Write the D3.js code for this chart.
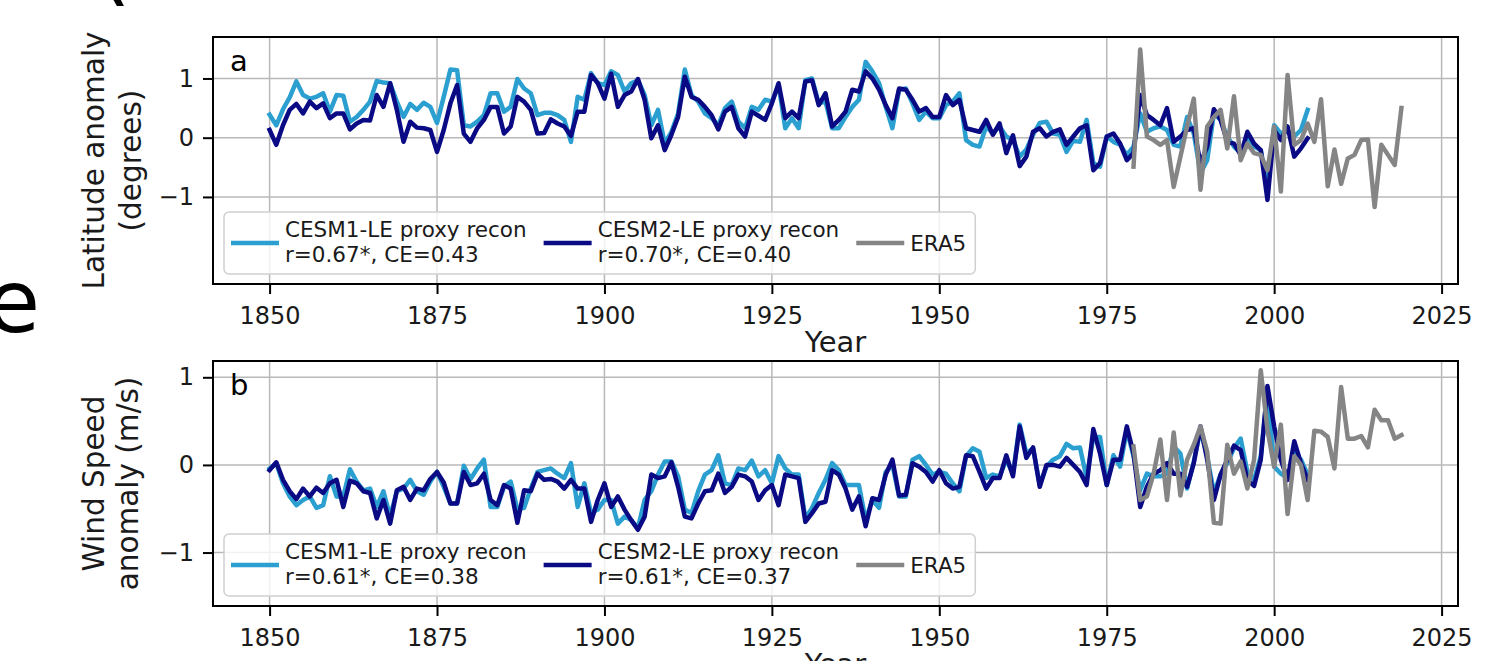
<!DOCTYPE html>
<html><head><meta charset="utf-8">
<script src="https://cdn.jsdelivr.net/npm/d3@7"></script>
<style>
body{margin:0;background:#fff;}
svg{display:block;font-family:"DejaVu Sans",sans-serif;}
</style>
</head><body>
<svg id="c" width="1496" height="661"></svg>
<script>
// ---------------- data ----------------
const reconYears = d3.range(1850, 2006);
const era5Years = d3.range(1979, 2020);
const xTicks = [1850, 1875, 1900, 1925, 1950, 1975, 2000, 2025];
const yTicks = [-1, 0, 1];

const latCESM1 = [0.39,0.21,0.48,0.68,0.95,0.72,0.66,0.69,0.75,0.44,0.72,0.71,0.27,0.35,0.47,0.61,0.96,0.93,0.92,0.61,
0.35,0.57,0.47,0.59,0.52,0.25,0.69,1.15,1.14,0.21,0.19,0.27,0.38,0.75,0.75,0.44,0.52,0.99,0.83,0.75,
0.38,0.42,0.42,0.38,0.30,-0.07,0.69,0.64,1.09,0.92,0.89,1.12,1.06,0.78,0.92,0.97,0.72,0.21,0.47,-0.10,
0.10,0.41,1.15,0.72,0.61,0.41,0.33,0.21,0.50,0.61,0.27,0.16,0.52,0.47,0.64,0.61,0.89,0.16,0.33,0.16,
0.97,1.00,0.58,0.61,0.16,0.16,0.35,0.52,0.64,1.28,1.12,0.92,0.52,0.16,0.81,0.83,0.58,0.30,0.44,0.33,
0.33,0.55,0.61,0.75,-0.04,-0.12,-0.15,0.19,0.07,0.19,0.02,-0.04,-0.32,-0.20,0.05,0.25,0.27,0.07,0.05,-0.24,
-0.05,-0.07,0.30,-0.43,-0.49,0.02,-0.07,-0.12,-0.29,-0.15,0.41,0.10,0.16,0.19,0.13,-0.12,-0.15,0.35,0.07,-0.60,
-0.38,0.41,0.30,0.02,-0.15,-0.26,0.02,-0.15,-0.21,-0.83,0.21,0.07,0.13,0.02,0.13,0.47];

const latCESM2 = [0.13,-0.12,0.21,0.47,0.57,0.41,0.61,0.50,0.58,0.33,0.41,0.41,0.14,0.24,0.30,0.29,0.72,0.52,0.92,0.47,
-0.07,0.27,0.17,0.16,0.13,-0.24,0.13,0.58,0.89,0.07,-0.07,0.16,0.30,0.52,0.52,0.07,0.19,0.69,0.61,0.47,
0.07,0.08,0.31,0.24,0.19,0.03,0.44,0.44,1.06,0.92,0.66,1.08,0.52,0.72,0.78,0.99,0.64,-0.01,0.21,-0.21,
0.05,0.35,1.03,0.69,0.64,0.52,0.38,0.14,0.44,0.52,0.16,0.02,0.44,0.37,0.30,0.58,0.92,0.33,0.44,0.33,
0.95,0.97,0.55,0.75,0.19,0.30,0.44,0.81,0.78,1.12,1.00,0.81,0.55,0.33,0.83,0.81,0.64,0.44,0.50,0.35,
0.35,0.72,0.55,0.64,0.16,0.13,0.10,0.30,0.05,0.24,-0.26,0.04,-0.48,-0.32,0.10,0.16,0.02,0.10,0.14,-0.12,
0.02,0.16,0.21,-0.55,-0.43,0.02,0.07,-0.10,-0.38,-0.26,0.72,0.38,0.30,0.21,0.50,-0.07,0.02,0.13,0.16,-0.43,
-0.15,0.48,0.30,-0.07,-0.10,-0.29,0.10,-0.10,-0.21,-1.05,0.13,-0.04,0.19,-0.32,-0.18,-0.01];

const latERA5 = [-0.49,1.49,0.02,-0.04,-0.12,-0.04,-0.83,-0.32,0.19,0.66,-0.88,0.19,0.35,0.47,-0.18,0.70,-0.38,-0.10,-0.26,-0.29,
-0.55,0.19,-0.91,1.06,-0.12,-0.04,0.24,-0.07,0.65,-0.82,-0.20,-0.78,-0.35,-0.29,-0.04,-0.03,-1.17,-0.12,-0.29,-0.46,0.50];

const windCESM1 = [-0.04,0.02,-0.21,-0.36,-0.46,-0.40,-0.36,-0.49,-0.46,-0.13,-0.36,-0.36,-0.05,-0.19,-0.29,-0.27,-0.48,-0.30,-0.59,-0.30,
-0.27,-0.17,-0.30,-0.34,-0.19,-0.08,-0.25,-0.44,-0.44,-0.01,-0.16,-0.04,0.06,-0.48,-0.48,-0.25,-0.19,-0.51,-0.49,-0.27,
-0.08,-0.06,-0.04,-0.10,-0.15,0.02,-0.48,-0.21,-0.55,-0.51,-0.40,-0.40,-0.67,-0.59,-0.63,-0.72,-0.40,-0.30,-0.11,0.04,
0.04,-0.13,-0.51,-0.55,-0.30,-0.11,-0.06,0.11,-0.21,-0.23,-0.04,-0.06,0.05,-0.13,-0.06,-0.21,0.10,-0.04,-0.11,-0.11,
-0.61,-0.49,-0.32,-0.17,0.02,-0.06,-0.23,-0.23,-0.23,-0.63,-0.40,-0.49,-0.08,0.00,-0.36,-0.36,0.06,0.10,0.00,-0.11,
-0.08,-0.10,-0.21,-0.30,0.10,0.19,0.15,-0.15,-0.11,-0.13,0.06,-0.10,0.46,0.13,0.19,-0.23,-0.02,0.06,0.10,0.24,
0.19,0.20,-0.15,0.32,0.32,-0.23,0.11,-0.02,0.40,0.10,-0.29,-0.10,-0.13,-0.13,-0.10,0.21,0.13,-0.27,0.04,0.40,
0.10,-0.32,-0.11,0.02,0.19,0.30,-0.08,-0.17,0.10,0.82,-0.02,-0.10,-0.15,0.13,0.06,-0.11];

const windCESM2 = [-0.06,0.03,-0.17,-0.30,-0.39,-0.27,-0.36,-0.26,-0.32,-0.21,-0.17,-0.48,-0.18,-0.21,-0.30,-0.32,-0.61,-0.40,-0.67,-0.29,
-0.25,-0.40,-0.27,-0.29,-0.16,-0.08,-0.20,-0.44,-0.44,-0.08,-0.23,-0.21,-0.10,-0.40,-0.46,-0.23,-0.27,-0.66,-0.29,-0.30,
-0.10,-0.17,-0.16,-0.19,-0.27,-0.17,-0.27,-0.27,-0.65,-0.40,-0.21,-0.48,-0.36,-0.51,-0.63,-0.74,-0.59,-0.11,-0.15,-0.13,
0.03,-0.25,-0.59,-0.61,-0.44,-0.30,-0.29,-0.10,-0.32,-0.25,-0.11,-0.13,-0.19,-0.40,-0.29,-0.23,-0.46,-0.11,-0.13,-0.15,
-0.65,-0.55,-0.44,-0.42,-0.06,-0.11,-0.27,-0.51,-0.36,-0.70,-0.38,-0.40,-0.11,0.06,-0.35,-0.34,0.02,-0.02,-0.08,-0.19,
-0.06,-0.21,-0.27,-0.25,0.11,0.10,-0.08,-0.27,-0.15,-0.15,0.11,-0.13,0.44,0.08,0.20,-0.25,0.00,0.00,-0.02,0.08,
0.00,-0.08,-0.23,0.41,0.13,-0.23,0.06,0.06,0.44,0.13,-0.48,-0.25,-0.10,-0.06,0.02,-0.10,-0.10,-0.25,0.02,0.44,
0.06,-0.40,-0.11,0.06,0.22,0.17,-0.17,-0.24,0.06,0.90,0.44,0.06,-0.17,0.27,0.02,-0.17];

const windERA5 = [0.21,-0.40,-0.36,-0.10,0.29,-0.40,0.37,-0.35,0.06,0.23,0.44,0.15,-0.66,-0.67,0.23,-0.10,0.04,-0.27,0.06,1.08,
0.40,-0.02,0.46,-0.56,0.10,0.00,-0.40,0.39,0.38,0.32,-0.04,0.89,0.30,0.30,0.33,0.20,0.63,0.51,0.51,0.30,0.34];

const seriesNames = ["CESM1-LE proxy recon", "CESM2-LE proxy recon", "ERA5"];
const seriesColors = ["#2b9fd0", "#0a0a85", "#858585"];
const latStats = ["r=0.67*, CE=0.43", "r=0.70*, CE=0.40"];
const windStats = ["r=0.61*, CE=0.38", "r=0.61*, CE=0.37"];
const panelLetters = ["a", "b"];
const yLabels = [["Latitude anomaly", "(degrees)"], ["Wind Speed", "anomaly (m/s)"]];
const yDomains = [[-2.47, 1.70], [-1.61, 1.186]];

// ---------------- layout ----------------
const svg = d3.select("#c");
const L = 213, R = 1458;
const panelsY = [[37, 284], [361, 606]];
const x = d3.scaleLinear().domain([1841.55, 2027.45]).range([L, R]);

const panels = [
  {letter: panelLetters[0], ylab: yLabels[0], dom: yDomains[0], y0: panelsY[0][0], y1: panelsY[0][1],
   series: [latCESM1, latCESM2, latERA5], stats: latStats, labX: [104, 141]},
  {letter: panelLetters[1], ylab: yLabels[1], dom: yDomains[1], y0: panelsY[1][0], y1: panelsY[1][1],
   series: [windCESM1, windCESM2, windERA5], stats: windStats, labX: [104, 138]}
];

// decorative fragments of neighbouring panel labels
svg.append("text").attr("x", -14).attr("y", 332).attr("font-size", 88).attr("fill", "#000").text("e");
svg.append("text").attr("x", 96).attr("y", -6).attr("font-size", 90).attr("fill", "#000").text("(");

panels.forEach((p, pi) => {
  const y = d3.scaleLinear().domain(p.dom).range([p.y1, p.y0]);
  const g = svg.append("g");
  const clipId = "clip" + pi;
  svg.append("clipPath").attr("id", clipId).append("rect")
    .attr("x", L).attr("y", p.y0).attr("width", R - L).attr("height", p.y1 - p.y0);

  // grid
  g.append("g").selectAll("line").data(xTicks).join("line")
    .attr("x1", d => x(d)).attr("x2", d => x(d)).attr("y1", p.y0).attr("y2", p.y1)
    .attr("stroke", "#b8b8b8").attr("stroke-width", 1.5);
  g.append("g").selectAll("line").data(yTicks).join("line")
    .attr("x1", L).attr("x2", R).attr("y1", d => y(d)).attr("y2", d => y(d))
    .attr("stroke", "#b8b8b8").attr("stroke-width", 1.5);

  // lines
  const lg = g.append("g").attr("clip-path", `url(#${clipId})`);
  const yearsFor = [reconYears, reconYears, era5Years];
  p.series.forEach((vals, si) => {
    const line = d3.line().x((d, i) => x(yearsFor[si][i])).y(d => y(d));
    lg.append("path").datum(vals).attr("d", line)
      .attr("fill", "none").attr("stroke", seriesColors[si]).attr("stroke-width", 4.5)
      .attr("stroke-linejoin", "round").attr("stroke-linecap", "square");
  });

  // axes
  const xa = d3.axisBottom(x).tickValues(xTicks).tickFormat(d3.format("d")).tickSize(10).tickPadding(13);
  const gx = g.append("g").attr("transform", `translate(0,${p.y1})`).call(xa);
  const ya = d3.axisLeft(y).tickValues(yTicks).tickFormat(d => d < 0 ? "\u2212" + Math.abs(d) : String(d)).tickSize(10).tickPadding(9);
  const gy = g.append("g").attr("transform", `translate(${L},0)`).call(ya);
  [gx, gy].forEach(a => {
    a.select(".domain").remove();
    a.selectAll(".tick line").attr("stroke", "#000").attr("stroke-width", 2);
    a.selectAll(".tick text").attr("font-size", 24).attr("fill", "#1a1a1a").attr("font-family", "DejaVu Sans");
  });

  // frame
  g.append("rect").attr("x", L).attr("y", p.y0).attr("width", R - L).attr("height", p.y1 - p.y0)
    .attr("fill", "none").attr("stroke", "#000").attr("stroke-width", 2);

  // panel letter
  g.append("text").attr("x", 230).attr("y", p.y0 + 34).attr("font-size", 29).attr("fill", "#000").text(p.letter);

  // axis labels
  const cy = (p.y0 + p.y1) / 2;
  p.ylab.forEach((t, k) => {
    g.append("text").attr("transform", `translate(${p.labX[k]},${cy}) rotate(-90)`)
      .attr("text-anchor", "middle").attr("font-size", 29.5).attr("fill", "#1a1a1a").text(t);
  });
  g.append("text").attr("x", (L + R) / 2).attr("y", p.y1 + 68).attr("text-anchor", "middle")
    .attr("font-size", 29).attr("fill", "#1a1a1a").text("Year");

  // legend
  const legTop = p.y1 - 72, legBot = p.y1 - 10, legL = 224;
  const leg = g.append("g");
  const box = leg.append("rect").attr("x", legL).attr("y", legTop).attr("height", legBot - legTop)
    .attr("rx", 5).attr("fill", "#fff").attr("fill-opacity", 0.8).attr("stroke", "#d0d0d0").attr("stroke-width", 1.5);
  const midY = (legTop + legBot) / 2;
  let cx = legL + 7;
  seriesNames.forEach((name, si) => {
    leg.append("line").attr("x1", cx).attr("x2", cx + 48).attr("y1", midY).attr("y2", midY)
      .attr("stroke", seriesColors[si]).attr("stroke-width", 4.5);
    const t = leg.append("text").attr("x", cx + 54).attr("font-size", 21.5).attr("fill", "#1a1a1a");
    if (si < 2) {
      t.append("tspan").attr("x", cx + 54).attr("y", midY - 6.5).text(name);
      t.append("tspan").attr("x", cx + 54).attr("y", midY + 18.5).text(p.stats[si]);
    } else {
      t.append("tspan").attr("x", cx + 54).attr("y", midY + 8).text(name);
    }
    const w = t.node().getBBox().width;
    cx = cx + 54 + w + 17;
  });
  box.attr("width", cx - 17 + 9 - legL);
});
</script>
</body></html>
